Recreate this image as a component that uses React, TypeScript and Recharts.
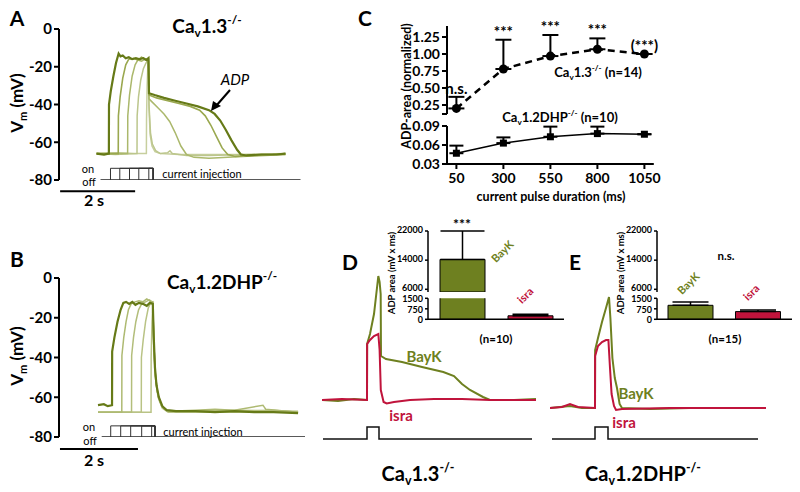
import React from 'react';
import { LineChart, Line, XAxis, YAxis, BarChart, Bar, ErrorBar, ReferenceLine, LabelList, Cell } from 'recharts';

type P = [number, number];
const FONT = 'Lato, "Open Sans", sans-serif';

// ---------- Panel A (Cav1.3-/-) traces: [time ms, mV] ----------
const aTrace50: P[] = [[0,-66],[600,-65.5],[1000,-66],[1330,-66],[1334,-48],[1350,-30],[1370,-19],[1385,-17],[1400,-42],[1430,-56],[1480,-62],[1560,-65],[1700,-66],[2200,-66.5],[3000,-66.5],[4000,-66.5],[5040,-66]];
const aTrace300: P[] = [[0,-66],[500,-66.5],[1080,-66],[1084,-46],[1120,-36],[1180,-27],[1250,-21],[1320,-18],[1385,-16.5],[1400,-40],[1440,-55],[1490,-61],[1580,-64.5],[1700,-66],[1900,-65.5],[1960,-64.5],[2020,-66],[2400,-67],[3000,-67],[4000,-66.5],[5040,-66.5]];
const aTrace550: P[] = [[0,-66],[830,-66],[834,-46],[880,-35],[950,-25],[1030,-19],[1100,-16.5],[1200,-17],[1300,-16],[1385,-16],[1400,-37],[1500,-39],[1650,-42],[1800,-45],[1950,-49],[2100,-55],[2250,-62],[2400,-66.5],[2600,-68],[3000,-68.5],[3500,-68],[3900,-67.5],[4500,-67],[5040,-66.5]];
const aTrace800: P[] = [[0,-66],[580,-66],[584,-46],[630,-36],[700,-26],[780,-19],[860,-16],[1000,-15.5],[1100,-16.5],[1200,-15],[1300,-16],[1385,-15.5],[1400,-35],[1600,-36.5],[1900,-38],[2200,-39.5],[2500,-41],[2750,-43],[2900,-46],[3050,-51],[3200,-57],[3350,-63],[3500,-66.5],[3700,-67.5],[4200,-67],[4700,-66.5],[5040,-66]];
const aTrace1050: P[] = [[0,-66],[200,-66.5],[330,-66],[333,-40],[380,-33],[450,-25],[520,-18],[590,-13],[640,-14.5],[700,-14],[780,-15.5],[860,-15],[950,-16],[1050,-15.5],[1150,-16],[1250,-15.5],[1330,-16.5],[1385,-15.5],[1400,-34],[1550,-35],[1800,-36.5],[2100,-38],[2400,-39.5],[2700,-41],[3000,-43],[3150,-45],[3300,-48.5],[3450,-53.5],[3600,-59],[3750,-64],[3850,-66.5],[4000,-67],[4400,-66.5],[4800,-66.5],[5040,-66]];
const aPulseStarts = [373, 621, 880, 1128, 1395];
const aPulseEnd = 1510;
const aOnLevel = -73.8;
const aBaselineSpan = [107, 5440];

// ---------- Panel B (Cav1.2DHP-/-) traces ----------
const bTrace50: P[] = [[0,-67.5],[1360,-67.5],[1363,-40],[1385,-22],[1405,-14],[1430,-34],[1470,-50],[1540,-60],[1650,-65.5],[1800,-67.5],[5130,-67.5]];
const bTrace300: P[] = [[0,-67.5],[1110,-67.5],[1113,-40],[1160,-31],[1220,-22],[1290,-15],[1350,-12.5],[1405,-12],[1430,-32],[1470,-49],[1540,-59],[1640,-65],[1800,-67],[2800,-67],[3500,-66.5],[5130,-67]];
const bTrace550: P[] = [[0,-67.5],[860,-67.5],[863,-39],[910,-30],[970,-22],[1040,-16],[1120,-13],[1220,-12],[1320,-11],[1405,-12.5],[1430,-32],[1470,-48],[1530,-58],[1620,-64],[1750,-66.5],[2200,-67],[3000,-66.5],[3700,-67],[4500,-66.5],[5130,-67.5]];
const bTrace800: P[] = [[0,-67.5],[610,-67.5],[613,-39],[660,-30],[720,-22],[780,-16],[850,-13],[950,-12],[1050,-11.5],[1150,-12],[1250,-10.5],[1330,-11.5],[1405,-12],[1430,-30],[1460,-46],[1510,-56],[1580,-62],[1680,-65.5],[1800,-67],[2500,-66.5],[3000,-66],[3500,-66.5],[4230,-64],[4300,-66],[5130,-67.5]];
const bTrace1050: P[] = [[0,-64],[150,-63.5],[250,-64.5],[360,-64],[363,-37],[420,-30],[500,-22],[580,-16],[650,-12.5],[720,-12],[800,-13],[880,-12],[960,-13.5],[1050,-12.5],[1150,-13],[1250,-14],[1330,-12.5],[1405,-13],[1430,-30],[1460,-45],[1500,-54],[1560,-60],[1650,-64.5],[1760,-66.5],[2000,-67],[2500,-67],[3000,-67.5],[3500,-67],[4000,-67.5],[4500,-67.5],[5130,-68]];
const bPulseStarts = [326, 582, 838, 1120, 1376];
const bPulseEnd = 1462;
const bOnLevel = -74.4;
const bBaselineSpan = [95, 5308];
const offLevel = -80;

// ---------- Panel C ----------
const durations = [50, 300, 550, 800, 1050];
const cav13Mean = [0.20, 0.78, 0.97, 1.07, 1.00];
const cav13Err = [0.17, 0.43, 0.31, 0.16, 0];
const cav13Sig = ['n.s.', '***', '***', '***', '(***)'];
const cav12Mean = [0.047, 0.063, 0.073, 0.078, 0.077];
const cav12Err = [0.012, 0.009, 0.016, 0.011, 0];
const cUpperTicks = [0.118, 0.25, 0.5, 0.75, 1, 1.25];
const cLowerTicks = [0.03, 0.06, 0.09];

// ---------- Panels D / E traces ----------
const dBayK: P[] = [[0,-65],[400,-65.5],[800,-64.5],[1125,-65],[1128,-37],[1200,-32],[1300,-22],[1380,-8],[1408,-3],[1440,-6],[1467,-12],[1475,-43],[1600,-44.5],[2000,-46],[2500,-48.5],[3033,-51],[3300,-53],[3500,-57],[3700,-60],[4025,-63.5],[4200,-65],[4800,-65],[5350,-64.5]];
const dIsra: P[] = [[0,-65],[500,-64.5],[1125,-65],[1128,-37],[1200,-35],[1300,-33],[1408,-32],[1440,-40],[1470,-60],[1540,-66],[1617,-66.7],[1800,-66],[2200,-65],[2800,-64.5],[3500,-64.5],[4200,-65],[5350,-65]];
const dStim: P[] = [[25,-84.5],[1125,-84.5],[1125,-78.5],[1425,-78.5],[1425,-84.5],[5250,-84.5]];
const eBayK: P[] = [[0,-65],[500,-64],[800,-65],[1125,-65],[1128,-36],[1200,-30],[1300,-22],[1400,-15],[1475,-9.5],[1510,-20],[1560,-40],[1620,-50],[1675,-55],[1740,-63],[1800,-65],[2500,-65.5],[3500,-65],[4500,-65],[5400,-65]];
const eIsra: P[] = [[0,-65],[300,-64.5],[500,-63],[700,-64.5],[1125,-65],[1128,-39],[1200,-34],[1300,-32],[1400,-31],[1460,-31],[1500,-45],[1540,-58],[1600,-64],[1650,-66],[1800,-65.5],[3000,-65],[5400,-65]];
const eStim: P[] = [[50,-80.5],[1125,-80.5],[1125,-74.5],[1450,-74.5],[1450,-80.5],[5200,-80.5]];

// ---------- Insets ----------
const insetCats = ['BayK', 'isra'];
const dMeans = [14200, 250];
const dErrs = [7800, 110];
const eMeans = [1000, 550];
const eErrs = [240, 120];
const breakLow = 5260;
const lowTop = 1500;
const insetUpperTicks = [6000, 14000, 22000];
const insetLowerTicks = [0, 750, 1500];

const OLIVE = '#6e8020';
const CRIMSON = '#c0143c';

const toPts = (a: P[]) => a.map(([t, v]) => ({ t, v }));
const pulseRects = (starts: number[], end: number, on: number) =>
  starts.map((s) => [{ t: s, v: offLevel }, { t: s, v: on }, { t: end, v: on }, { t: end, v: offLevel }]);

function Txt({ x, y, children, size = 12, weight = 700, color = '#000', rot = 0, italic = false, anchor = 'c' }: any) {
  const tx = anchor === 'l' ? '0' : anchor === 'r' ? '-100%' : '-50%';
  return (
    <div style={{ position: 'absolute', left: x, top: y, transform: `translate(${tx},-50%) rotate(${rot}deg)`, fontSize: size, fontWeight: weight, color, fontStyle: italic ? 'italic' : 'normal', whiteSpace: 'nowrap', lineHeight: 1, fontFamily: FONT }}>
      {children}
    </div>
  );
}

const CaV = ({ rest }: { rest: string }) => (
  <span>
    Ca<span style={{ fontSize: '0.62em', position: 'relative', top: '0.35em' }}>v</span>{rest}
    <span style={{ fontSize: '0.62em', position: 'relative', top: '-0.75em' }}>-/-</span>
  </span>
);

const tickStyle = (size: number) => ({ fontSize: size, fontWeight: 700, fill: '#000', fontFamily: FONT });

function TracePanel({ left, top, traces, colors, widths, starts, end, on, span, domainX, plotW, plotH, scaleBar }: any) {
  const yW = 45;
  return (
    <div style={{ position: 'absolute', left: left - yW, top: top - 10 }}>
      <LineChart width={yW + plotW + 5} height={10 + plotH + 30} margin={{ top: 10, right: 5, bottom: 30, left: 0 }}>
        <XAxis type="number" dataKey="t" domain={domainX} hide allowDataOverflow />
        <YAxis type="number" domain={[-80, 0]} ticks={[-80, -60, -40, -20, 0]} width={yW} allowDataOverflow interval={0}
          axisLine={{ stroke: '#000', strokeWidth: 2 }} tickLine={{ stroke: '#000', strokeWidth: 2 }} tickSize={5}
          tick={tickStyle(15)} />
        {traces.map((tr: P[], i: number) => (
          <Line key={'tr' + i} data={toPts(tr)} dataKey="v" type="linear" stroke={colors[i]} strokeWidth={widths[i]} dot={false} isAnimationActive={false} />
        ))}
        <Line data={[{ t: span[0], v: offLevel }, { t: span[1], v: offLevel }]} dataKey="v" stroke="#222" strokeWidth={1.5} dot={false} isAnimationActive={false} />
        {pulseRects(starts, end, on).map((d, i) => (
          <Line key={'p' + i} data={d} dataKey="v" stroke="#333" strokeWidth={1} dot={false} isAnimationActive={false} />
        ))}
        <ReferenceLine segment={[{ x: scaleBar[0], y: -86 }, { x: scaleBar[1], y: -86 }]} stroke="#000" strokeWidth={2} ifOverflow="visible" />
      </LineChart>
    </div>
  );
}

function TraceDE({ left, top, w, h, bay, isra, stim, domainX, domainY }: any) {
  return (
    <div style={{ position: 'absolute', left, top }}>
      <LineChart width={w} height={h} margin={{ top: 0, right: 0, bottom: 0, left: 0 }}>
        <XAxis type="number" dataKey="t" domain={domainX} hide allowDataOverflow />
        <YAxis type="number" domain={domainY} hide allowDataOverflow />
        <Line data={toPts(bay)} dataKey="v" stroke={OLIVE} strokeWidth={2} dot={false} isAnimationActive={false} />
        <Line data={toPts(isra)} dataKey="v" stroke={CRIMSON} strokeWidth={2} dot={false} isAnimationActive={false} />
        <Line data={toPts(stim)} dataKey="v" stroke="#111" strokeWidth={1.5} dot={false} isAnimationActive={false} />
      </LineChart>
    </div>
  );
}

function Inset({ left, means, errs, plotW }: any) {
  const upper = insetCats.map((c, i) => ({ name: c, v: means[i] >= breakLow ? means[i] : null, e: means[i] >= breakLow ? [0, errs[i]] : null }));
  const lower = insetCats.map((c, i) => ({ name: c, v: Math.min(means[i], lowTop + 100), e: means[i] + errs[i] <= lowTop ? [0, errs[i]] : null }));
  const yW = 38;
  const colors = [OLIVE, CRIMSON];
  return (
    <>
      <div style={{ position: 'absolute', left: left - yW, top: 225 }}>
        <BarChart width={yW + plotW + 2} height={70} data={upper} margin={{ top: 6, right: 2, bottom: 3, left: 0 }}>
          <XAxis dataKey="name" type="category" hide />
          <YAxis type="number" domain={[breakLow, 22000]} ticks={insetUpperTicks} allowDataOverflow width={yW} interval={0}
            axisLine={{ stroke: '#000', strokeWidth: 1.5 }} tickLine={{ stroke: '#000', strokeWidth: 1.5 }} tickSize={3}
            tick={{ ...tickStyle(9), dy: -1 }} />
          <Bar dataKey="v" barSize={45} stroke="#000" strokeWidth={1} isAnimationActive={false}>
            {upper.map((_, i) => <Cell key={'u' + i} fill={colors[i]} />)}
            <ErrorBar dataKey="e" width={22} stroke="#000" strokeWidth={1.5} direction="y" />
          </Bar>
        </BarChart>
      </div>
      <div style={{ position: 'absolute', left: left - yW, top: 293 }}>
        <BarChart width={yW + plotW + 2} height={32.3} data={lower} margin={{ top: 5.3, right: 2, bottom: 5, left: 0 }}>
          <XAxis dataKey="name" type="category" tick={false} tickLine={false} height={1} axisLine={{ stroke: '#000', strokeWidth: 1.5 }} />
          <YAxis type="number" domain={[0, lowTop]} ticks={insetLowerTicks} allowDataOverflow width={yW} interval={0}
            axisLine={{ stroke: '#000', strokeWidth: 1.5 }} tickLine={{ stroke: '#000', strokeWidth: 1.5 }} tickSize={3}
            tick={{ ...tickStyle(9), dy: 1 }} />
          <Bar dataKey="v" barSize={45} stroke="#000" strokeWidth={1} isAnimationActive={false}>
            {lower.map((_, i) => <Cell key={'l' + i} fill={colors[i]} />)}
            <ErrorBar dataKey="e" width={18} stroke="#000" strokeWidth={1.5} direction="y" />
          </Bar>
        </BarChart>
      </div>
    </>
  );
}

const SquareDot = (p: any) => <rect key={'sq' + p.index} x={p.cx - 3.5} y={p.cy - 3.5} width={7} height={7} fill="#000" />;

export default function App() {
  const cData = durations.map((d, i) => ({
    d,
    m13: cav13Mean[i], e13: [0, cav13Err[i]], top13: cav13Mean[i] + cav13Err[i], sig: cav13Sig[i],
    m12: cav12Mean[i], e12: [0, cav12Err[i]],
  }));
  const aLight = ['#c7cf9e', '#bcc68c', '#abb86c', '#9aa84f', '#667a17'];
  const bLight = ['#b9c385', '#b9c385', '#b3be7b', '#aeba72', '#667a17'];
  return (
    <div style={{ position: 'absolute', left: 0, top: 0, width: 800, height: 492, background: '#fff', overflow: 'hidden', fontFamily: FONT }}>
      {/* Panel A */}
      <TracePanel left={59} top={29} traces={[aTrace50, aTrace300, aTrace550, aTrace800, aTrace1050]} colors={aLight}
        widths={[1.5, 1.5, 1.5, 1.6, 2.2]} starts={aPulseStarts} end={aPulseEnd} on={aOnLevel} span={aBaselineSpan}
        domainX={[-1000, 5500]} plotW={243.75} plotH={151} scaleBar={[-970, 1030]} />
      <Txt x={17} y={17} size={21}>A</Txt>
      <Txt x={207} y={25} size={19}><CaV rest="1.3" /></Txt>
      <Txt x={16} y={103} size={17} rot={-90}>V<span style={{ fontSize: '0.65em', position: 'relative', top: '0.35em' }}>m</span> (mV)</Txt>
      <Txt x={235} y={79} size={15} weight={400} italic>ADP</Txt>
      <svg style={{ position: 'absolute', left: 200, top: 80 }} width={40} height={40}>
        <line x1={30} y1={10} x2={16} y2={26} stroke="#000" strokeWidth={2} />
        <polygon points="11,31 13,21 21,26" fill="#000" />
      </svg>
      <Txt x={88} y={168} size={11} weight={400}>on</Txt>
      <Txt x={89} y={181} size={11} weight={400}>off</Txt>
      <Txt x={202} y={173} size={11} weight={400}>current injection</Txt>
      <Txt x={94} y={200} size={16}>2 s</Txt>

      {/* Panel B */}
      <TracePanel left={59} top={278} traces={[bTrace50, bTrace300, bTrace550, bTrace800, bTrace1050]} colors={bLight}
        widths={[1.5, 1.5, 1.5, 1.5, 2.2]} starts={bPulseStarts} end={bPulseEnd} on={bOnLevel} span={bBaselineSpan}
        domainX={[-1000, 5500]} plotW={253.5} plotH={159} scaleBar={[-975, 1025]} />
      <Txt x={17} y={258} size={21}>B</Txt>
      <Txt x={222} y={281} size={19}><CaV rest="1.2DHP" /></Txt>
      <Txt x={16} y={356} size={17} rot={-90}>V<span style={{ fontSize: '0.65em', position: 'relative', top: '0.35em' }}>m</span> (mV)</Txt>
      <Txt x={89} y={426} size={11} weight={400}>on</Txt>
      <Txt x={90} y={440} size={11} weight={400}>off</Txt>
      <Txt x={203} y={431} size={11} weight={400}>current injection</Txt>
      <Txt x={94} y={460} size={16}>2 s</Txt>

      {/* Panel C upper */}
      <div style={{ position: 'absolute', left: 402, top: 16 }}>
        <LineChart width={261.8} height={103} data={cData} margin={{ top: 10, right: 10, bottom: 5, left: 0 }}>
          <XAxis type="number" dataKey="d" domain={[0, 1100]} hide allowDataOverflow />
          <YAxis type="number" domain={[0.118, 1.412]} ticks={cUpperTicks} allowDataOverflow width={45} interval={0}
            tickFormatter={(v: number) => (v < 0.2 ? '' : v.toFixed(2))}
            axisLine={{ stroke: '#000', strokeWidth: 2 }} tickLine={{ stroke: '#000', strokeWidth: 2 }} tickSize={5} tick={tickStyle(14)} />
          <Line dataKey="top13" stroke="none" dot={false} isAnimationActive={false}>
            <LabelList dataKey="sig" position="top" offset={3} style={{ fontSize: 15, fontWeight: 700, fill: '#000', fontFamily: FONT }} />
          </Line>
          <Line dataKey="m13" stroke="#000" strokeWidth={2.5} strokeDasharray="7 5" isAnimationActive={false}
            dot={{ r: 4.5, fill: '#000', stroke: '#000', strokeWidth: 0 }}>
            <ErrorBar dataKey="e13" width={8} stroke="#000" strokeWidth={2} direction="y" />
          </Line>
        </LineChart>
      </div>
      {/* Panel C lower */}
      <div style={{ position: 'absolute', left: 402, top: 116 }}>
        <LineChart width={261.8} height={72} data={cData} margin={{ top: 10, right: 10, bottom: 2, left: 0 }}>
          <XAxis type="number" dataKey="d" domain={[0, 1100]} ticks={durations} allowDataOverflow height={22} interval={0} tickMargin={4}
            axisLine={{ stroke: '#000', strokeWidth: 2 }} tickLine={{ stroke: '#000', strokeWidth: 2 }} tickSize={5} tick={tickStyle(14)} />
          <YAxis type="number" domain={[0.03, 0.09]} ticks={cLowerTicks} allowDataOverflow width={45} interval={0}
            tickFormatter={(v: number) => v.toFixed(2)}
            axisLine={{ stroke: '#000', strokeWidth: 2 }} tickLine={{ stroke: '#000', strokeWidth: 2 }} tickSize={5} tick={tickStyle(14)} />
          <Line dataKey="m12" stroke="#000" strokeWidth={1.5} isAnimationActive={false} dot={SquareDot}>
            <ErrorBar dataKey="e12" width={7} stroke="#000" strokeWidth={2} direction="y" />
          </Line>
        </LineChart>
      </div>
      <Txt x={365} y={17} size={21}>C</Txt>
      <Txt x={407} y={86} size={12.5} rot={-90}>ADP-area (normalized)</Txt>
      <Txt x={551} y={197} size={12.5}>current pulse duration (ms)</Txt>
      <Txt x={598} y={72} size={13}><CaV rest="1.3" /> (n=14)</Txt>
      <Txt x={560} y={117} size={13}><CaV rest="1.2DHP" /> (n=10)</Txt>

      {/* Panel D */}
      <TraceDE left={322} top={260} w={214} h={190} bay={dBayK} isra={dIsra} stim={dStim} domainX={[0, 5350]} domainY={[-90, 5]} />
      <Inset left={428} means={dMeans} errs={dErrs} plotW={136} />
      <Txt x={350} y={261} size={21}>D</Txt>
      <Txt x={392} y={273} size={9.5} rot={-90}>ADP area (mV x ms)</Txt>
      <Txt x={462} y={224} size={14}>***</Txt>
      <Txt x={502} y={251} size={11} color={OLIVE} rot={-45}>BayK</Txt>
      <Txt x={525} y={295} size={11} color={CRIMSON} rot={-45}>isra</Txt>
      <Txt x={496} y={339} size={11.5}>(n=10)</Txt>
      <Txt x={424} y={356} size={15} color={OLIVE}>BayK</Txt>
      <Txt x={401} y={415} size={15} color={CRIMSON}>isra</Txt>
      <Txt x={418} y={473} size={20}><CaV rest="1.3" /></Txt>

      {/* Panel E */}
      <TraceDE left={550} top={260} w={216} h={190} bay={eBayK} isra={eIsra} stim={eStim} domainX={[0, 5400]} domainY={[-86, 9]} />
      <Inset left={657} means={eMeans} errs={eErrs} plotW={135} />
      <Txt x={575} y={261} size={21}>E</Txt>
      <Txt x={621} y={273} size={9.5} rot={-90}>ADP area (mV x ms)</Txt>
      <Txt x={726} y={256} size={11.5}>n.s.</Txt>
      <Txt x={688} y={283} size={11} color={OLIVE} rot={-45}>BayK</Txt>
      <Txt x={751} y={292} size={11} color={CRIMSON} rot={-45}>isra</Txt>
      <Txt x={725} y={339} size={11.5}>(n=15)</Txt>
      <Txt x={636} y={393} size={15} color={OLIVE}>BayK</Txt>
      <Txt x={624} y={422} size={15} color={CRIMSON}>isra</Txt>
      <Txt x={643} y={473} size={20}><CaV rest="1.2DHP" /></Txt>
    </div>
  );
}
